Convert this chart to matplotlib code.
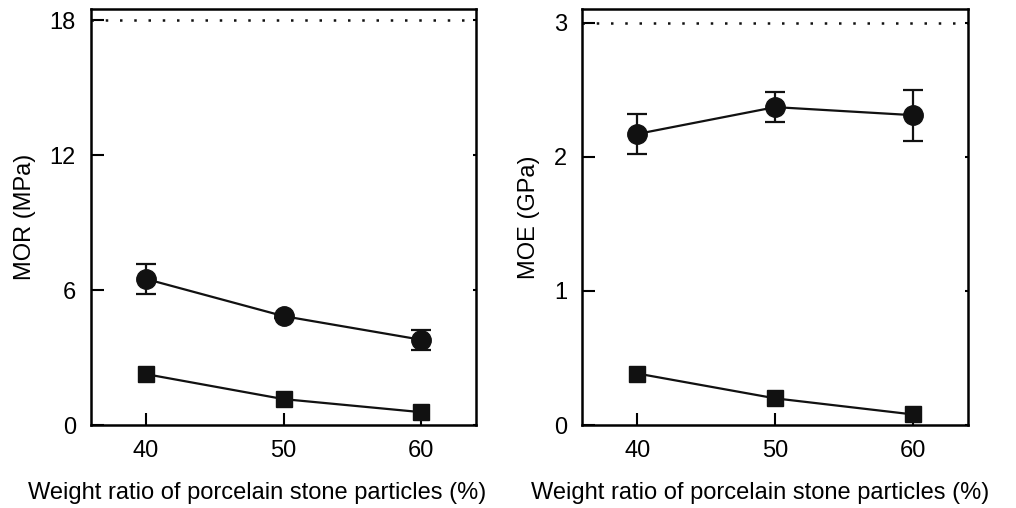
import matplotlib
matplotlib.use("Agg")
import matplotlib.pyplot as plt

plt.rcParams['font.family'] = ['Liberation Sans', 'DejaVu Sans']

# Weight ratio of porcelain stone particles (%)
ratio = [40, 50, 60]

# MOR (MPa)
mor_circle = [6.5, 4.85, 3.8]
mor_circle_err = [0.65, 0.1, 0.45]
mor_square = [2.27, 1.16, 0.58]
mor_ref = 18

# MOE (GPa)
moe_circle = [2.17, 2.37, 2.31]
moe_circle_err = [0.15, 0.11, 0.19]
moe_square = [0.385, 0.20, 0.08]
moe_ref = 3

fig = plt.figure(figsize=(10.16, 5.08), dpi=100)
ax1 = fig.add_axes([0.0896, 0.163, 0.379, 0.819])
ax2 = fig.add_axes([0.573, 0.163, 0.380, 0.819])


def draw_panel(ax, circ, circ_err, sq, ref, ylim, yticks, ylabel, xlab_x):
    ax.errorbar(ratio, circ, yerr=circ_err, fmt='o-', color='#111111',
                markersize=14, linewidth=1.6, elinewidth=1.6, capsize=7,
                capthick=1.6, zorder=3)
    ax.plot(ratio, sq, 's-', color='#111111', markersize=12, linewidth=1.6,
            zorder=3)
    ax.axhline(ref, color='#111111', linestyle=(0, (1, 4.7)), linewidth=1.8)
    ax.set_xlim(36, 64)
    ax.set_ylim(*ylim)
    ax.set_xticks(ratio)
    ax.set_yticks(yticks)
    ax.set_ylabel(ylabel, fontsize=17, labelpad=10)
    ax.set_xlabel('Weight ratio of porcelain stone particles (%)',
                  fontsize=17, labelpad=14)
    ax.xaxis.label.set_x(xlab_x)
    ax.tick_params(axis='both', direction='in', length=9, width=1.5,
                   labelsize=17, pad=11)
    ax.tick_params(axis='y', right=True, which='both')
    for sp in ax.spines.values():
        sp.set_linewidth(1.8)


draw_panel(ax1, mor_circle, mor_circle_err, mor_square, mor_ref,
           (0, 18.5), [0, 6, 12, 18], 'MOR (MPa)', 0.431)
draw_panel(ax2, moe_circle, moe_circle_err, moe_square, moe_ref,
           (0, 3.1), [0, 1, 2, 3], 'MOE (GPa)', 0.461)

# the right-hand ticks in the figure are only faint marks
for ax in (ax1, ax2):
    for t in ax.yaxis.get_major_ticks():
        t.tick2line.set_markersize(2)

fig.savefig('out.png', dpi=100)
